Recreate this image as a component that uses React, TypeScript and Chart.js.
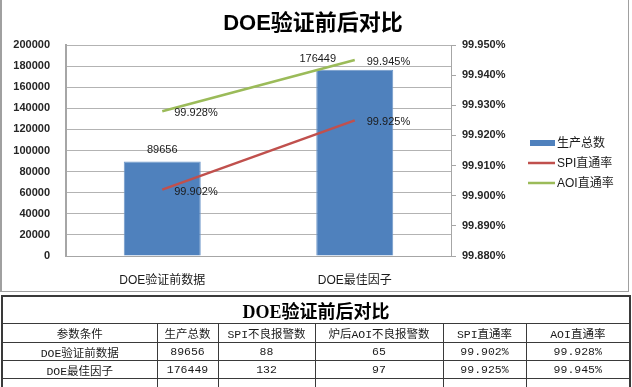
import React, { useEffect, useRef } from 'react';
import { Chart, registerables } from 'chart.js';

Chart.register(...registerables);

// ---- data ----
const chartTitle = 'DOE验证前后对比';
const categories = ['DOE验证前数据', 'DOE最佳因子'];
const seriesNames = ['生产总数', 'SPI直通率', 'AOI直通率'];
const totalProduced = [89656, 176449];
const spiAlarms = [88, 132];
const aoiAlarms = [65, 97];
const spiYield = [99.902, 99.925];
const aoiYield = [99.928, 99.945];
const leftAxis = { min: 0, max: 200000, step: 20000 };
const rightAxis = { min: 99.88, max: 99.95, step: 0.01 };
const tableHeaders = ['参数条件', '生产总数', 'SPI不良报警数', '炉后AOI不良报警数', 'SPI直通率', 'AOI直通率'];

const colors = { bar: '#4F81BD', spi: '#C0504D', aoi: '#9BBB59' };
const latin = '"Liberation Sans", "Noto Sans CJK SC", sans-serif';

const overlayPlugin = {
  id: 'overlay',
  afterDatasetsDraw(chart: any) {
    const ctx = chart.ctx;
    const area = chart.chartArea;
    ctx.save();
    // bar value labels
    ctx.font = `11px ${latin}`;
    ctx.fillStyle = '#1a1a1a';
    ctx.textBaseline = 'middle';
    ctx.textAlign = 'center';
    const barMeta = chart.getDatasetMeta(0);
    barMeta.data.forEach((el: any, i: number) => {
      const dx = i === 1 ? -37 : 0;
      ctx.fillText(String(totalProduced[i]), el.x + dx, el.y - 11);
    });
    // line value labels
    ctx.textAlign = 'left';
    [
      { idx: 1, vals: spiYield },
      { idx: 2, vals: aoiYield },
    ].forEach(({ idx, vals }) => {
      const meta = chart.getDatasetMeta(idx);
      meta.data.forEach((pt: any, i: number) => {
        ctx.fillText(vals[i].toFixed(3) + '%', pt.x + 12, pt.y + 2);
      });
    });
    ctx.restore();
  },
  afterDraw(chart: any) {
    const ctx = chart.ctx;
    const area = chart.chartArea;
    ctx.save();
    // title
    ctx.font = `bold 22px ${latin}`;
    ctx.fillStyle = '#000';
    ctx.textAlign = 'center';
    ctx.textBaseline = 'middle';
    ctx.fillText(chartTitle, 313, 24);
    // legend
    const lx = area.right + 79;
    const ys = [143, 163, 183];
    ctx.font = `12px ${latin}`;
    ctx.fillStyle = '#1a1a1a';
    ctx.textAlign = 'left';
    ctx.fillStyle = colors.bar;
    ctx.fillRect(lx, ys[0] - 3, 25, 6);
    ctx.lineWidth = 2.5;
    ctx.strokeStyle = colors.spi;
    ctx.beginPath();
    ctx.moveTo(lx - 2, ys[1]);
    ctx.lineTo(lx + 25, ys[1]);
    ctx.stroke();
    ctx.strokeStyle = colors.aoi;
    ctx.beginPath();
    ctx.moveTo(lx - 2, ys[2]);
    ctx.lineTo(lx + 25, ys[2]);
    ctx.stroke();
    ctx.fillStyle = '#1a1a1a';
    seriesNames.forEach((n, i) => ctx.fillText(n, lx + 27, ys[i] + 1));
    ctx.restore();
  },
};

function ChartBox() {
  const ref = useRef<HTMLCanvasElement | null>(null);
  useEffect(() => {
    if (!ref.current) return;
    const chart = new Chart(ref.current, {
      type: 'bar',
      data: {
        labels: categories,
        datasets: [
          {
            type: 'bar',
            label: seriesNames[0],
            data: totalProduced,
            backgroundColor: colors.bar,
            borderColor: '#6f98c9',
            borderWidth: 1,
            barPercentage: 0.4,
            categoryPercentage: 1,
            yAxisID: 'y',
            order: 3,
          },
          {
            type: 'line',
            label: seriesNames[1],
            data: spiYield,
            borderColor: colors.spi,
            borderWidth: 2.5,
            pointRadius: 0,
            yAxisID: 'y1',
            order: 1,
          },
          {
            type: 'line',
            label: seriesNames[2],
            data: aoiYield,
            borderColor: colors.aoi,
            borderWidth: 2.5,
            pointRadius: 0,
            yAxisID: 'y1',
            order: 2,
          },
        ],
      } as any,
      options: {
        animation: false,
        responsive: false,
        maintainAspectRatio: false,
        layout: { padding: { top: 45, left: 0, right: 0, bottom: 0 } },
        plugins: { legend: { display: false }, tooltip: { enabled: false }, title: { display: false } },
        scales: {
          x: {
            grid: { display: false },
            border: { display: true, color: '#a6a6a6', width: 1 },
            ticks: { color: '#1a1a1a', font: { size: 12, family: latin }, padding: 9 },
            afterFit: (s: any) => { s.height = 37; },
          },
          y: {
            position: 'left',
            min: leftAxis.min,
            max: leftAxis.max,
            grid: { color: '#b3b3b3', drawTicks: false },
            border: { display: true, color: '#a6a6a6', width: 2 },
            ticks: {
              stepSize: leftAxis.step,
              color: '#262626',
              font: { size: 11, weight: 'bold', family: latin },
              padding: 16,
              callback: (v: any) => String(v),
            },
            afterFit: (s: any) => { s.width = 66; },
          },
          y1: {
            position: 'right',
            min: rightAxis.min,
            max: rightAxis.max,
            grid: { drawOnChartArea: false, drawTicks: true, tickLength: 5, color: '#a6a6a6' },
            border: { display: true, color: '#a6a6a6', width: 1 },
            ticks: {
              stepSize: rightAxis.step,
              color: '#262626',
              font: { size: 11, weight: 'bold', family: latin },
              padding: 6,
              callback: (v: any) => Number(v).toFixed(3) + '%',
            },
            afterFit: (s: any) => { s.width = 181; },
          },
        },
      } as any,
      plugins: [overlayPlugin],
    });
    return () => chart.destroy();
  }, []);
  return <canvas ref={ref} width={632} height={293} style={{ position: 'absolute', left: 0, top: 0, width: 632, height: 293 }} />;
}

const colWidths = [155, 61, 97, 128, 83, 104];
const tableFont = '"Liberation Mono", "Noto Sans CJK SC", monospace';

export default function App() {
  useEffect(() => {
    document.body.style.margin = '0';
  }, []);
  const cell: React.CSSProperties = {
    border: '1px solid #3a3a3a',
    padding: 0,
    textAlign: 'center',
    fontSize: 11.5,
    color: '#1a1a1a',
    whiteSpace: 'nowrap',
    overflow: 'hidden',
  };
  const rows = categories.map((c, i) => [
    c,
    String(totalProduced[i]),
    String(spiAlarms[i]),
    String(aoiAlarms[i]),
    spiYield[i].toFixed(3) + '%',
    aoiYield[i].toFixed(3) + '%',
  ]);
  return (
    <div style={{ position: 'relative', width: 632, height: 387, overflow: 'hidden', background: '#fff' }}>
      <ChartBox />
      <div
        style={{
          position: 'absolute', left: 0, top: 0, width: 629, height: 292,
          borderLeft: '2px solid #a0a0a0', borderRight: '1px solid #a0a0a0', borderBottom: '1px solid #a0a0a0',
          boxSizing: 'border-box', pointerEvents: 'none',
        }}
      />
      <table
        style={{
          position: 'absolute', left: 1, top: 295, width: 628, borderCollapse: 'collapse',
          tableLayout: 'fixed', fontFamily: tableFont, border: '2px solid #3a3a3a',
        }}
      >
        <colgroup>
          {colWidths.map((w, i) => <col key={i} style={{ width: w }} />)}
        </colgroup>
        <tbody>
          <tr style={{ height: 25 }}>
            <td colSpan={6} style={{ ...cell, fontSize: 18, fontWeight: 'bold', fontFamily: '"Liberation Serif", "Noto Sans CJK SC", serif', color: '#000' }}>
              {chartTitle}
            </td>
          </tr>
          <tr style={{ height: 19 }}>
            {tableHeaders.map((h, i) => <td key={i} style={cell}>{h}</td>)}
          </tr>
          {rows.map((r, ri) => (
            <tr key={ri} style={{ height: 18 }}>
              {r.map((v, ci) => <td key={ci} style={cell}>{v}</td>)}
            </tr>
          ))}
          <tr style={{ height: 18 }}>
            {colWidths.map((_, i) => <td key={i} style={cell}>{'\u00a0'}</td>)}
          </tr>
        </tbody>
      </table>
    </div>
  );
}
